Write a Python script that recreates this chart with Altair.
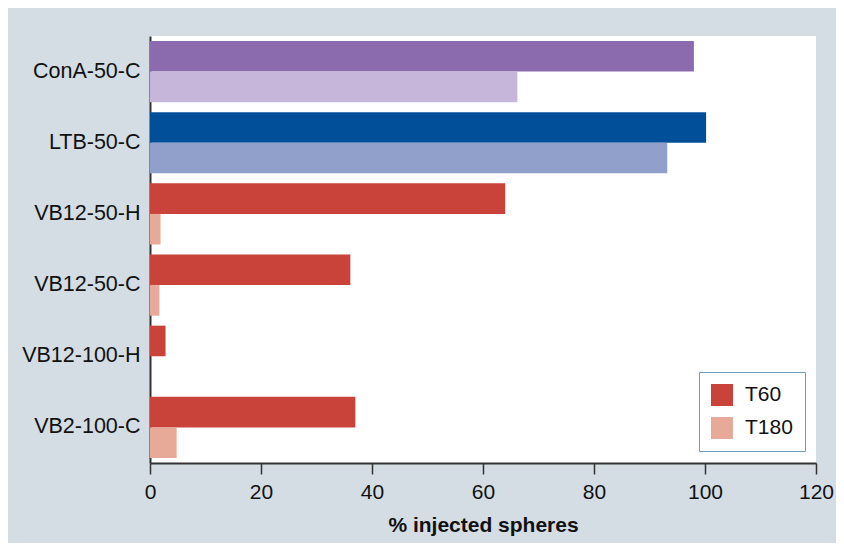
import altair as alt
import pandas as pd

categories = ["ConA-50-C", "LTB-50-C", "VB12-50-H", "VB12-50-C", "VB12-100-H", "VB2-100-C"]
t60 = [98.0, 100.2, 64.0, 36.1, 2.8, 37.0]
t180 = [66.2, 93.2, 1.9, 1.7, 0.0, 4.8]
series = ["T60", "T180"]
groups = ["ConA", "LTB", "VB", "VB", "VB", "VB"]
group_colors = {
    "ConA": {"T60": "#8b6aad", "T180": "#c6b6da"},
    "LTB": {"T60": "#004f98", "T180": "#90a0ca"},
    "VB": {"T60": "#c9433a", "T180": "#e8aa98"},
}

rows = []
for c, g, a, b in zip(categories, groups, t60, t180):
    rows.append({"cat": c, "series": "T60", "value": a, "key": f"{g}-T60"})
    rows.append({"cat": c, "series": "T180", "value": b, "key": f"{g}-T180"})
df = pd.DataFrame(rows)

key_domain = [f"{g}-{s}" for g in group_colors for s in series]
key_range = [group_colors[g][s] for g in group_colors for s in series]

font = "Liberation Sans"

y_enc = alt.Y("cat:N", sort=categories, title=None,
              scale=alt.Scale(domain=categories, paddingInner=0.14, paddingOuter=0.07),
              axis=alt.Axis(ticks=False, labelFontSize=21.5, labelFont=font, labelColor="#111",
                            labelPadding=10, domainColor="#333", domainWidth=2))

bars = alt.Chart(df).mark_bar().encode(
    x=alt.X("value:Q", title="% injected spheres",
            scale=alt.Scale(domain=[0, 120], nice=False),
            axis=alt.Axis(values=[0, 20, 40, 60, 80, 100, 120], tickSize=11, tickColor="#333",
                          tickWidth=1.5, labelFontSize=21, labelFont=font, labelColor="#111",
                          labelPadding=7, labelFlush=False, domainColor="#333", domainWidth=2,
                          grid=False, titleFontSize=21, titleFont=font, titleFontWeight="bold",
                          titleColor="#111", titlePadding=12)),
    y=y_enc,
    yOffset=alt.YOffset("series:N", sort=series, scale=alt.Scale(domain=series, paddingInner=0, paddingOuter=0)),
    fill=alt.Fill("key:N", scale=alt.Scale(domain=key_domain, range=key_range), legend=None),
)

legend_df = pd.DataFrame({"series": series, "cat": [categories[0]] * 2, "value": [0, 0]})
legend_layer = alt.Chart(legend_df).mark_square(opacity=0).encode(
    x=alt.X("value:Q"),
    y=alt.Y("cat:N", sort=categories),
    color=alt.Color("series:N", sort=series,
                    scale=alt.Scale(domain=series, range=[group_colors["VB"]["T60"], group_colors["VB"]["T180"]]),
                    legend=alt.Legend(title=None, orient="none", legendX=549, legendY=336,
                                      symbolType="square", symbolSize=484, symbolOpacity=1,
                                      symbolStrokeWidth=0, labelFontSize=21, labelFont=font,
                                      labelColor="#111", labelOffset=12, rowPadding=11,
                                      padding=12, strokeColor="#6a9fb5", fillColor="white",
                                      cornerRadius=0)),
)

chart = alt.layer(bars, legend_layer).properties(
    width=666, height=427,
    autosize=alt.AutoSizeParams(type="none"),
    padding={"left": 142, "top": 28, "right": 20, "bottom": 80},
    background="#d3dde3",
).configure_view(fill="white", stroke=None)

chart.save("out.html", embed_options={"renderer": "svg", "actions": False})
